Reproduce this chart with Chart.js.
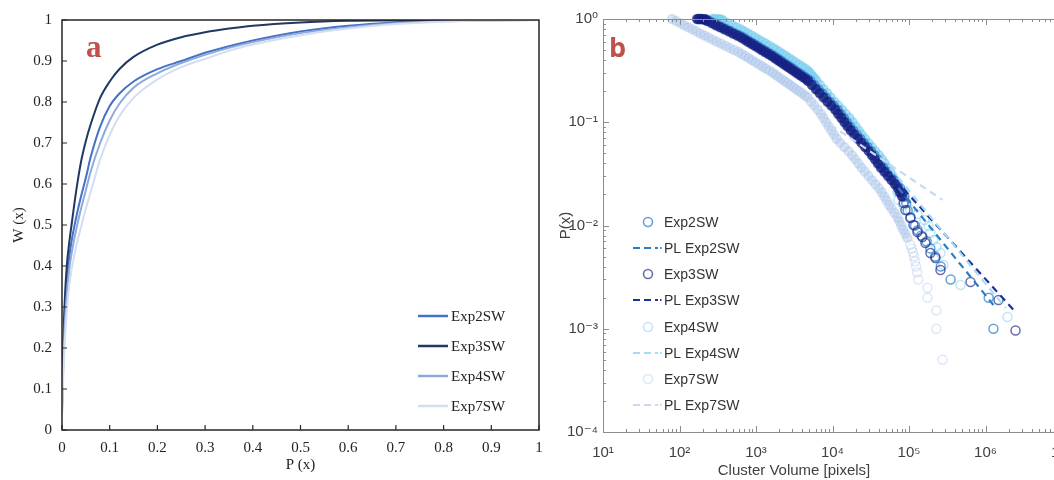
<!DOCTYPE html>
<html><head><meta charset="utf-8">
<script src="https://cdn.jsdelivr.net/npm/chart.js@4.4.0/dist/chart.umd.min.js"></script>
<style>
html,body{margin:0;padding:0;background:#fff;width:1054px;height:480px;overflow:hidden;position:relative}
#wa{position:absolute;left:0;top:0}
#wb{position:absolute;left:555px;top:0}
</style></head><body>
<div id="wa"><canvas id="ca" width="550" height="480"></canvas></div>
<div id="wb"><canvas id="cb" width="520" height="480"></canvas></div>
<script>
// ---------- Panel a data ----------
const pValues = [0,0.003,0.006,0.01,0.015,0.02,0.03,0.04,0.05,0.06,0.08,0.1,0.12,0.15,0.2,0.25,0.3,0.35,0.4,0.5,0.6,0.7,0.8,0.9,1.0];
const wExp2 = [0.06,0.2,0.30,0.365,0.42,0.46,0.52,0.57,0.615,0.665,0.74,0.79,0.82,0.85,0.88,0.90,0.92,0.936,0.95,0.972,0.986,0.994,0.998,1,1];
const wExp3 = [0.04,0.22,0.32,0.40,0.455,0.50,0.585,0.655,0.705,0.745,0.81,0.85,0.88,0.91,0.94,0.958,0.97,0.979,0.986,0.994,0.998,0.999,1,1,1];
const wExp4 = [0.05,0.17,0.26,0.33,0.39,0.43,0.49,0.54,0.585,0.63,0.70,0.755,0.795,0.835,0.87,0.895,0.915,0.932,0.946,0.968,0.982,0.992,0.997,0.999,1];
const wExp7 = [0.04,0.14,0.22,0.29,0.35,0.39,0.45,0.495,0.54,0.58,0.66,0.72,0.765,0.81,0.855,0.885,0.905,0.925,0.94,0.963,0.979,0.99,0.996,0.999,1];
const tickValuesA = [0,0.1,0.2,0.3,0.4,0.5,0.6,0.7,0.8,0.9,1];
const tickLabelsA = ['0','0.1','0.2','0.3','0.4','0.5','0.6','0.7','0.8','0.9','1'];
const seriesNamesA = ['Exp2SW','Exp3SW','Exp4SW','Exp7SW'];

// ---------- Panel b data: [cluster volume, P(x)] ----------
const exp2Points = [[180,1.0],[195,0.998],[210,0.995],[225,0.99],[247,.955],[281,.912],[320,.871],[364,.832],[413,.794],[470,.759],[534,.724],[608,.692],[685,.661],[760,.631],[840,.603],[932,.575],[1034,.550],[1144,.525],[1269,.501],[1404,.479],[1557,.457],[1724,.437],[1898,.417],[2081,.398],[2282,.380],[2503,.363],[2743,.347],[3009,.331],[3291,.316],[3609,.302],[3957,.288],[4339,.275],[4757,.263],[5133,.251],[5773,.229],[6492,.209],[7285,.191],[8192,.174],[9213,.158],[10340,.145],[11630,.132],[12740,.120],[14010,.110],[15350,.100],[16880,.0912],[18550,.0832],[20670,.0759],[23040,.0692],[25670,.0631],[28600,.0575],[31880,.0525],[35110,.0479],[38400,.0437],[42010,.0398],[46060,.0363],[51210,.0331],[56930,.0302],[63150,.0275],[70200,.0251],[76980,.0229],[81920,.0209],[87170,.0191],[92000,.0165],[96000,.014],[105000,.012],[120000,.010],[130000,.009],[145000,.008],[170000,.007],[190000,.006],[220000,.005],[260000,.004],[350000,.003],[1100000,.002],[1270000,.001]];
const exp3Points = [[170,1.0],[180,0.999],[192,0.998],[205,0.995],[218,0.99],[231,.955],[263,.912],[299,.871],[340,.832],[386,.794],[439,.759],[499,.724],[568,.692],[640,.661],[710,.631],[785,.603],[871,.575],[966,.550],[1069,.525],[1186,.501],[1312,.479],[1455,.457],[1611,.437],[1774,.417],[1945,.398],[2133,.380],[2339,.363],[2564,.347],[2812,.331],[3076,.316],[3373,.302],[3698,.288],[4055,.275],[4446,.263],[4797,.251],[5395,.229],[6067,.209],[6808,.191],[7656,.174],[8610,.158],[9660,.145],[10870,.132],[11910,.120],[13090,.110],[14350,.100],[15780,.0912],[17340,.0832],[19320,.0759],[21530,.0692],[23990,.0631],[26730,.0575],[29790,.0525],[32810,.0479],[35890,.0437],[39260,.0398],[43050,.0363],[47860,.0331],[53210,.0302],[59020,.0275],[65610,.0251],[71940,.0229],[76560,.0209],[81470,.0191],[85100,.0165],[89800,.0141],[104200,.0118],[114200,.0101],[128800,.00865],[149700,.00774],[164000,.00678],[190600,.00542],[221800,.00484],[257800,.00371],[637000,.00284],[1480000,.0019],[2470000,.00096]];
const exp4Points = [[269,1.0],[288,0.999],[309,0.997],[331,0.993],[355,0.988],[375,.955],[428,.912],[488,.871],[556,.832],[631,.794],[703,.759],[783,.724],[873,.692],[973,.661],[1084,.631],[1208,.603],[1346,.575],[1500,.550],[1671,.525],[1841,.501],[2023,.479],[2228,.457],[2455,.437],[2704,.417],[2979,.398],[3273,.380],[3606,.363],[3972,.347],[4375,.331],[4753,.316],[5012,.302],[5284,.288],[5572,.275],[5875,.263],[6194,.251],[6887,.229],[7656,.209],[8531,.191],[9484,.174],[10620,.158],[11890,.145],[13300,.132],[14890,.120],[16670,.110],[18320,.100],[20040,.0912],[21930,.0832],[24040,.0759],[26490,.0692],[29380,.0631],[32660,.0575],[36310,.0525],[40360,.0479],[44360,.0437],[48190,.0398],[52360,.0363],[56890,.0331],[60670,.0302],[64570,.0275],[68710,.0251],[70500,.0211],[72600,.0177],[84500,.0158],[104000,.0141],[128800,.0129],[159000,.0113],[179500,.0099],[190600,.00846],[208400,.00724],[228400,.00619],[257800,.00542],[282000,.00414],[471000,.00265],[1940000,.0013]];
const exp7Points = [[80,1.0],[90.4,.955],[102,.912],[115,.871],[130,.832],[147,.794],[166,.759],[187,.724],[211,.692],[239,.661],[271,.631],[308,.603],[351,.575],[399,.550],[453,.525],[515,.501],[586,.479],[656,.457],[728,.437],[807,.417],[893,.398],[991,.380],[1096,.363],[1216,.347],[1346,.331],[1493,.316],[1652,.302],[1811,.288],[1977,.275],[2158,.263],[2360,.251],[2576,.240],[2812,.229],[3076,.219],[3357,.209],[3664,.200],[4009,.191],[4375,.182],[4732,.174],[5236,.158],[5794,.145],[6412,.132],[7063,.120],[7638,.110],[8260,.100],[8933,.0912],[9661,.0832],[10450,.0759],[11300,.0692],[12620,.0631],[14290,.0575],[16180,.0525],[18030,.0479],[19820,.0437],[21830,.0398],[23990,.0363],[26550,.0331],[29510,.0302],[32810,.0275],[36480,.0251],[40550,.0229],[44160,.0209],[47530,.0191],[51170,.0174],[54950,.0158],[59570,.0145],[64860,.0132],[70630,.0120],[74820,.0110],[79250,.0100],[83950,.00912],[89330,.00832],[95060,.00759],[104000,.0065],[108400,.006],[112700,.0055],[116100,.005],[120200,.0045],[123900,.004],[127600,.0035],[132100,.003],[174200,.0025],[174200,.002],[228000,.0015],[228000,.001],[274000,.0005]];
const plExp2 = [[72600,0.0231],[1270000,0.0017]];
const plExp3 = [[66400,0.0276],[2470000,0.00145]];
const plExp4 = [[57100,0.036],[1830000,0.00159]];
const plExp7 = [[6920,0.11],[274000,0.0177]];
const xTickValuesB = [1e1,1e2,1e3,1e4,1e5,1e6,1e7];
const xTickLabelsB = ['10\u00B9','10\u00B2','10\u00B3','10\u2074','10\u2075','10\u2076','10\u2077'];
const yTickValuesB = [1e-4,1e-3,1e-2,1e-1,1];
const yTickLabelsB = ['10\u207B\u2074','10\u207B\u00B3','10\u207B\u00B2','10\u207B\u00B9','10\u2070'];

// ---------- Panel a ----------
const colorsA = ['#4472c4','#203864','#8eaadc','#d3def2'];
const seriesW = [wExp2,wExp3,wExp4,wExp7];
const serif = "'Liberation Serif', 'DejaVu Serif', serif";
const sans = "'Liberation Sans', Arial, 'DejaVu Sans', sans-serif";

const framePluginA = {
  id:'frameA',
  afterDraw(chart){
    const ctx = chart.ctx, a = chart.chartArea, xs = chart.scales.x, ys = chart.scales.y;
    ctx.save();
    ctx.strokeStyle = '#262626'; ctx.lineWidth = 1.5;
    ctx.strokeRect(a.left, a.top, a.right - a.left, a.bottom - a.top);
    ctx.lineWidth = 1.2; ctx.beginPath();
    xs.ticks.forEach(t => { const x = xs.getPixelForValue(t.value); ctx.moveTo(x, a.bottom); ctx.lineTo(x, a.bottom - 5); });
    ys.ticks.forEach(t => { const y = ys.getPixelForValue(t.value); ctx.moveTo(a.left, y); ctx.lineTo(a.left + 5, y); });
    ctx.stroke();
    const rows = [316, 346, 376, 406];
    ctx.font = "15px " + serif; ctx.textBaseline = 'middle'; ctx.fillStyle = '#222';
    chart.data.datasets.forEach((ds, i) => {
      ctx.strokeStyle = ds.borderColor; ctx.lineWidth = 2.5;
      ctx.beginPath(); ctx.moveTo(418, rows[i]); ctx.lineTo(448, rows[i]); ctx.stroke();
      ctx.fillText(ds.label, 451, rows[i] + 1);
    });
    ctx.font = "bold 31px " + serif; ctx.fillStyle = '#c0504d'; ctx.textBaseline = 'alphabetic';
    ctx.fillText('a', 86, 57);
    ctx.restore();
  }
};

new Chart(document.getElementById('ca'), {
  type:'line',
  data:{ datasets: seriesNamesA.map((name, i) => ({
    label:name,
    data: pValues.map((p, k) => ({x:p, y:seriesW[i][k]})),
    borderColor: colorsA[i], borderWidth: 2, pointRadius: 0, fill:false,
    cubicInterpolationMode:'monotone', order: 4 - i
  }))},
  options:{
    responsive:false, animation:false, events:[],
    layout:{padding:{top:20, right:11, left:0, bottom:0}},
    plugins:{legend:{display:false}, tooltip:{enabled:false}},
    scales:{
      x:{type:'linear', min:0, max:1,
        afterFit:s => { s.height = 50; s.paddingLeft = 0; s.paddingRight = 0; },
        afterBuildTicks:s => { s.ticks = tickValuesA.map(v => ({value:v})); },
        ticks:{callback:(v, i) => tickLabelsA[i], font:{family:serif, size:15}, color:'#222', padding:9, maxRotation:0, autoSkip:false},
        grid:{display:false, drawTicks:false}, border:{display:false},
        title:{display:true, text:'P (x)', font:{family:serif, size:15}, color:'#222', padding:{top:0, bottom:6}}
      },
      y:{type:'linear', min:0, max:1,
        afterFit:s => { s.width = 62; s.paddingTop = 0; s.paddingBottom = 0; },
        afterBuildTicks:s => { s.ticks = tickValuesA.map(v => ({value:v})); },
        ticks:{callback:(v, i) => tickLabelsA[i], font:{family:serif, size:15}, color:'#222', padding:10, autoSkip:false},
        grid:{display:false, drawTicks:false}, border:{display:false},
        title:{display:true, text:'W (x)', font:{family:serif, size:15}, color:'#222', padding:{top:10, bottom:0}}
      }
    }
  },
  plugins:[framePluginA]
});

// ---------- Panel b ----------
// layer: higher = drawn further underneath
const seriesB = [
  {label:'Exp2SW', pts:exp2Points, color:'rgba(50,130,205,0.75)', fill:'rgba(50,130,205,0.35)', dense:0.0185, kind:'marker', layer:6},
  {label:'PL Exp2SW', pts:plExp2, color:'#2a7dc6', kind:'fit', layer:4},
  {label:'Exp3SW', pts:exp3Points, color:'rgba(25,30,130,0.65)', fill:'rgba(22,32,130,0.75)', dense:0.0185, kind:'marker', layer:5},
  {label:'PL Exp3SW', pts:plExp3, color:'#1f2f9c', kind:'fit', layer:3},
  {label:'Exp4SW', pts:exp4Points, color:'rgba(110,200,238,0.45)', fill:'rgba(130,210,242,0.6)', dense:0.02, kind:'marker', layer:7},
  {label:'PL Exp4SW', pts:plExp4, color:'#a6dcf3', kind:'fit', layer:2},
  {label:'Exp7SW', pts:exp7Points, color:'rgba(160,190,230,0.35)', fill:'rgba(175,200,235,0.45)', dense:0.007, kind:'marker', layer:8},
  {label:'PL Exp7SW', pts:plExp7, color:'#c8d8ef', kind:'fit', layer:1}
];

const framePluginB = {
  id:'frameB',
  afterDraw(chart){
    const ctx = chart.ctx, a = chart.chartArea, xs = chart.scales.x, ys = chart.scales.y;
    ctx.save();
    ctx.strokeStyle = '#8c8c8c'; ctx.lineWidth = 1;
    ctx.strokeRect(a.left + 0.5, a.top + 0.5, a.right - a.left, a.bottom - a.top);
    ctx.beginPath();
    const ex0 = Math.round(Math.log10(xs.min)), ex1 = Math.round(Math.log10(xs.max));
    for (let e = ex0; e <= ex1; e++) {
      for (let k = 1; k <= 9; k++) {
        if (e === ex1 && k > 1) break;
        const x = Math.round(xs.getPixelForValue(k * Math.pow(10, e))) + 0.5;
        const len = k === 1 ? 6 : 3;
        ctx.moveTo(x, a.bottom); ctx.lineTo(x, a.bottom - len);
        ctx.moveTo(x, a.top); ctx.lineTo(x, a.top + len);
      }
    }
    const ey0 = Math.round(Math.log10(ys.min)), ey1 = Math.round(Math.log10(ys.max));
    for (let e = ey0; e <= ey1; e++) {
      for (let k = 1; k <= 9; k++) {
        if (e === ey1 && k > 1) break;
        const y = Math.round(ys.getPixelForValue(k * Math.pow(10, e))) + 0.5;
        const len = k === 1 ? 6 : 3;
        ctx.moveTo(a.left, y); ctx.lineTo(a.left + len, y);
      }
    }
    ctx.stroke();
    // x-axis title
    ctx.font = "15px " + sans; ctx.fillStyle = '#404040'; ctx.textAlign = 'center'; ctx.textBaseline = 'middle';
    ctx.fillText('Cluster Volume [pixels]', 239, 471);
    ctx.textAlign = 'left';
    const rows = [222, 248, 274, 300, 327, 353, 379, 405];
    ctx.font = "14px " + sans;
    chart.data.datasets.forEach((ds, i) => {
      const y = rows[i];
      if (ds.showLine) {
        ctx.strokeStyle = ds.borderColor; ctx.lineWidth = 2; ctx.setLineDash([7, 4]);
        ctx.beginPath(); ctx.moveTo(78, y); ctx.lineTo(103, y); ctx.stroke(); ctx.setLineDash([]);
        ctx.fillStyle = ds.borderColor; ctx.fillRect(105, y - 1, 1.5, 2);
      } else {
        ctx.strokeStyle = ds.pointBorderColor; ctx.lineWidth = 1.6;
        ctx.beginPath(); ctx.arc(93, y, 4.5, 0, Math.PI * 2); ctx.stroke();
      }
      ctx.fillStyle = '#333';
      ctx.fillText(ds.label, 109, y + 1);
    });
    ctx.font = "bold 27px 'Open Sans', " + sans; ctx.fillStyle = '#c0504d'; ctx.textBaseline = 'alphabetic';
    ctx.fillText('b', 54, 57);
    ctx.restore();
  }
};

new Chart(document.getElementById('cb'), {
  type:'scatter',
  data:{ datasets: seriesB.map(s => s.kind === 'marker' ? {
      label:s.label, data:s.pts.map(p => ({x:p[0], y:p[1]})), showLine:false,
      pointRadius:4.5, pointBorderWidth:1.5, pointBorderColor:s.color,
      pointBackgroundColor: c => (c.raw && c.raw.y > s.dense) ? s.fill : 'rgba(0,0,0,0)',
      pointStyle:'circle', clip:false, order: s.layer
    } : {
      label:s.label, data:s.pts.map(p => ({x:p[0], y:p[1]})), showLine:true,
      pointRadius:0, borderColor:s.color, borderWidth:2.2, borderDash:[7,5], fill:false, order: s.layer
    })
  },
  options:{
    responsive:false, animation:false, events:[],
    layout:{padding:{top:19, right:13, left:0, bottom:0}},
    plugins:{legend:{display:false}, tooltip:{enabled:false}},
    scales:{
      x:{type:'logarithmic', min:10, max:1e7,
        afterFit:s => { s.height = 48; s.paddingLeft = 0; s.paddingRight = 0; },
        afterBuildTicks:s => { s.ticks = xTickValuesB.map(v => ({value:v})); },
        ticks:{callback:(v, i) => xTickLabelsB[i], font:{family:sans, size:15}, color:'#404040', padding:12, maxRotation:0, autoSkip:false},
        grid:{display:false, drawTicks:false}, border:{display:false},
        title:{display:false}
      },
      y:{type:'logarithmic', min:1e-4, max:1,
        afterFit:s => { s.width = 48; s.paddingTop = 0; s.paddingBottom = 0; },
        afterBuildTicks:s => { s.ticks = yTickValuesB.map(v => ({value:v})); },
        ticks:{callback:(v, i) => yTickLabelsB[i], font:{family:sans, size:15}, color:'#404040', padding:5, autoSkip:false},
        grid:{display:false, drawTicks:false}, border:{display:false},
        title:{display:true, text:'P(x)', font:{family:sans, size:15}, color:'#404040', padding:{top:2, bottom:0}}
      }
    }
  },
  plugins:[framePluginB]
});
</script>
</body></html>
